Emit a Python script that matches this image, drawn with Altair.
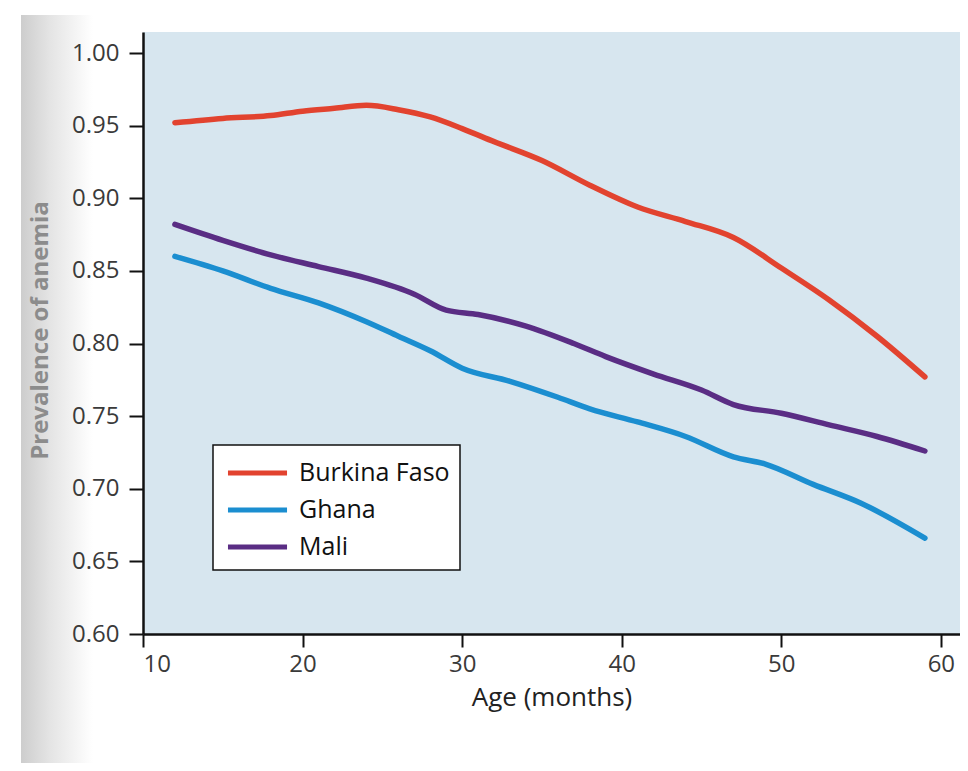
import altair as alt
import pandas as pd

# ---- data ----
countries = ["Burkina Faso", "Ghana", "Mali"]
colors = ["#e2432f", "#1b8ed0", "#5a2d84"]

bf_months = [12, 15, 18, 20, 22, 24, 26, 28, 30, 32, 35, 38, 41, 44, 47, 50, 53, 56, 59]
bf_values = [0.952, 0.955, 0.957, 0.960, 0.962, 0.964, 0.961, 0.956, 0.948, 0.939,
             0.926, 0.909, 0.894, 0.884, 0.873, 0.852, 0.830, 0.805, 0.777]

gh_months = [12, 15, 18, 21, 24, 26, 28, 30, 33, 36, 38, 41, 44, 47, 49, 52, 55, 59]
gh_values = [0.860, 0.850, 0.838, 0.828, 0.815, 0.805, 0.795, 0.783, 0.774, 0.763,
             0.755, 0.746, 0.736, 0.722, 0.717, 0.703, 0.690, 0.666]

ml_months = [12, 15, 18, 21, 24, 27, 29, 31, 34, 37, 39, 42, 45, 47, 50, 53, 56, 59]
ml_values = [0.882, 0.871, 0.861, 0.853, 0.845, 0.834, 0.823, 0.820, 0.812, 0.800,
             0.791, 0.779, 0.768, 0.758, 0.752, 0.744, 0.736, 0.726]

x_ticks = [10, 20, 30, 40, 50, 60]
y_ticks = [0.60, 0.65, 0.70, 0.75, 0.80, 0.85, 0.90, 0.95, 1.00]

rows = []
for name, ms, vs in [("Burkina Faso", bf_months, bf_values),
                     ("Ghana", gh_months, gh_values),
                     ("Mali", ml_months, ml_values)]:
    for m, v in zip(ms, vs):
        rows.append({"country": name, "age": m, "prev": v})
df = pd.DataFrame(rows)

FONT = "Open Sans"

# soft scanner shadow strip on the left edge (decoration only)
shadow = alt.Chart(pd.DataFrame({"d": [0]})).mark_rect(
    clip=False,
    color=alt.Gradient(
        gradient="linear", x1=0, x2=1, y1=0, y2=0,
        stops=[alt.GradientStop(offset=0, color="#cdcdcd"),
               alt.GradientStop(offset=0.4, color="#e4e4e4"),
               alt.GradientStop(offset=1, color="#ffffff")],
    ),
).encode(x=alt.value(-122), x2=alt.value(-50), y=alt.value(-17), y2=alt.value(740))

lines = alt.Chart(df).mark_line(
    strokeWidth=5.5, strokeCap="round", strokeJoin="round", interpolate="monotone"
).encode(
    x=alt.X("age:Q",
            scale=alt.Scale(domain=[10, 61.2], nice=False, zero=False),
            axis=alt.Axis(values=x_ticks, title="Age (months)", grid=False, zindex=1,
                          titleY=63, titleBaseline="middle",
                          labelPadding=5, tickSize=13)),
    y=alt.Y("prev:Q",
            scale=alt.Scale(domain=[0.60, 1.0145], nice=False, zero=False),
            axis=alt.Axis(values=y_ticks, format=".2f", title="Prevalence of anemia",
                          grid=False, zindex=1, titleX=-103, titleY=298, titleAngle=270,
                          titleAlign="center", titleBaseline="middle",
                          titleColor="#8c8c8c", titleFontWeight="bold", titleFontSize=24,
                          labelPadding=10, tickSize=14)),
    color=alt.Color("country:N",
                    scale=alt.Scale(domain=countries, range=colors),
                    legend=alt.Legend(title=None, orient="none", legendX=70, legendY=413,
                                      symbolType="M-0.84,0H2.97", symbolSize=961,
                                      symbolStrokeWidth=5, labelFontSize=25,
                                      labelFont=FONT, labelColor="#111111",
                                      padding=10, rowPadding=6, labelOffset=40,
                                      strokeColor="#111111", fillColor="#ffffff",
                                      labelLimit=400)),
)

chart = alt.layer(shadow, lines).properties(
    width=817, height=602,
    autosize=alt.AutoSizeParams(type="none"),
    padding={"left": 135, "top": 24, "right": 0, "bottom": 129},
    background="#ffffff",
).configure_view(
    fill="#d7e6ef", strokeWidth=0
).configure_axis(
    domainColor="#111111", domainWidth=2.5, tickColor="#111111", tickWidth=2,
    labelFont=FONT, labelFontSize=24, labelColor="#3a3a3a",
    titleFont=FONT, titleFontSize=26, titleFontWeight="normal", titleColor="#222222",
).configure_legend(
    strokeWidth=1.5
)

chart.save("out.html", embed_options={"renderer": "svg", "actions": False})
